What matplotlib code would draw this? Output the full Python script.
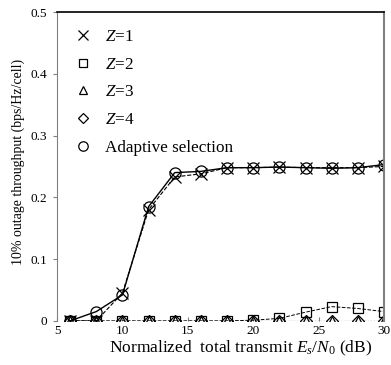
import matplotlib.pyplot as plt

plt.rcParams['font.family'] = ['Liberation Serif', 'DejaVu Serif']
plt.rcParams['mathtext.fontset'] = 'custom'
plt.rcParams['mathtext.rm'] = 'Liberation Serif'
plt.rcParams['mathtext.it'] = 'Liberation Serif:italic'

# Data
snr = [6, 8, 10, 12, 14, 16, 18, 20, 22, 24, 26, 28, 30]
z1 = [0, 0, 0.045, 0.18, 0.233, 0.238, 0.248, 0.248, 0.249, 0.248, 0.248, 0.248, 0.25]
z2 = [0, 0, 0, 0, 0, 0, 0, 0.001, 0.004, 0.014, 0.023, 0.02, 0.015]
z3 = [0] * 13
z4 = [0] * 13
adaptive = [0, 0.015, 0.042, 0.185, 0.24, 0.242, 0.248, 0.248, 0.249, 0.248, 0.247, 0.248, 0.253]

fig = plt.figure(figsize=(3.91, 3.65), dpi=100)
ax = fig.add_axes([0.146, 0.121, 0.836, 0.846])

mk = dict(color='black', markerfacecolor='none', markeredgecolor='black', markeredgewidth=0.9)
ax.plot(snr, z1, marker='x', markersize=8, linestyle='--', linewidth=0.8, label='$Z$=1', **mk)
ax.plot(snr, z2, marker='s', markersize=7, linestyle='--', linewidth=0.7, label='$Z$=2', **mk)
ax.plot(snr, z3, marker='^', markersize=7.5, linestyle=':', linewidth=0.8, label='$Z$=3', **mk)
ax.plot(snr, z4, marker='D', markersize=6, linestyle=':', linewidth=0.8, label='$Z$=4', **mk)
ax.plot(snr, adaptive, marker='o', markersize=8, linestyle='-', linewidth=1.0, label='Adaptive selection', **mk)

ax.set_xlim(5, 30)
ax.set_ylim(0, 0.5)
ax.set_xticks([5, 10, 15, 20, 25, 30])
ax.set_yticks([0, 0.1, 0.2, 0.3, 0.4, 0.5])
ax.set_yticklabels(['0', '0.1', '0.2', '0.3', '0.4', '0.5'])
ax.tick_params(axis='x', direction='in', length=3, color='gray', labelsize=9.5, pad=3)
ax.tick_params(axis='y', direction='out', length=3, color='gray', labelsize=9.5, pad=4)

ax.spines['left'].set_color('gray')
ax.spines['right'].set_color('gray')
ax.spines['right'].set_linewidth(1.5)
ax.spines['top'].set_color('black')
ax.spines['top'].set_linewidth(1.2)
ax.spines['bottom'].set_visible(False)

ax.set_xlabel('Normalized  total transmit $E_s/N_0$ (dB)', fontsize=12.5, labelpad=1)
ax.xaxis.label.set_x(0.56)
ax.set_ylabel('10% outage throughput (bps/Hz/cell)', fontsize=10, labelpad=4)
ax.yaxis.label.set_y(0.515)

leg = ax.legend(loc='upper left', frameon=False, fontsize=12.3, handlelength=1.0,
                labelspacing=0.68, borderaxespad=0.5, borderpad=0.5, handletextpad=0.8,
                markerscale=0.85)
for h in leg.legend_handles:
    h.set_linestyle('none')

fig.savefig('out.png', dpi=100)
